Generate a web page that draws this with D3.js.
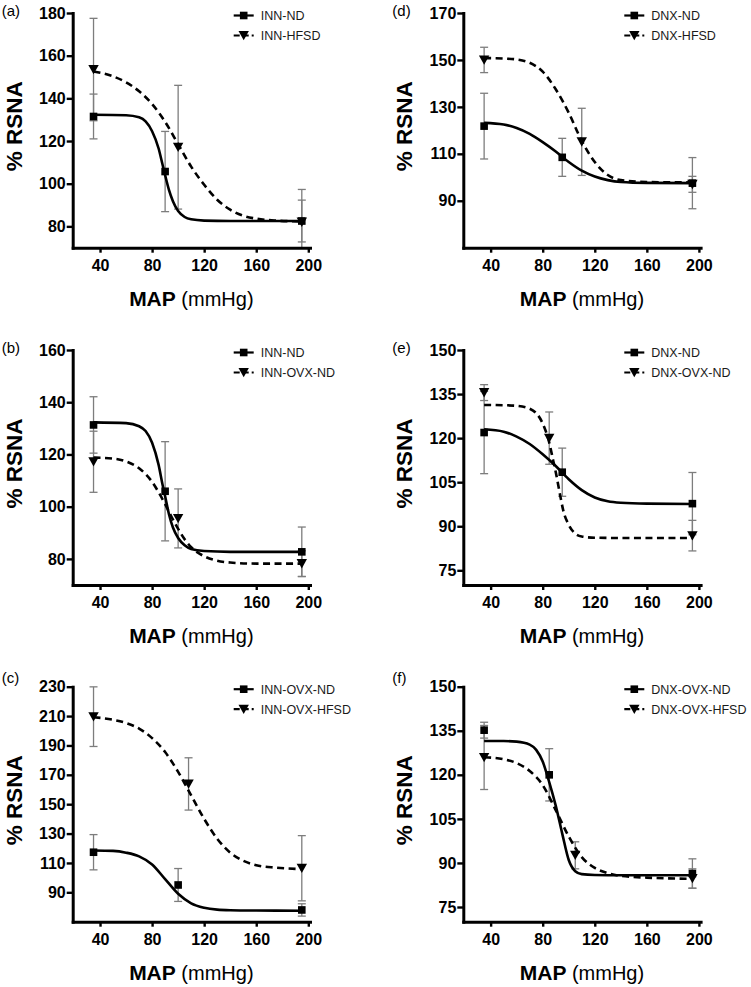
<!DOCTYPE html>
<html><head><meta charset="utf-8">
<script src="https://cdn.jsdelivr.net/npm/d3@7"></script>
<style>body{margin:0;background:#fff}svg{display:block}</style>
</head><body>
<svg id="chart" width="751" height="987"></svg>
<script>
// ---------- data ----------
const mapTicks = [40, 80, 120, 160, 200];
const mapDomain = [19, 201.3];

// (a)
const aTicks = [80, 100, 120, 140, 160, 180];
const aNames = ["INN-ND", "INN-HFSD"];
const aX1 = [35, 90, 195], aY1 = [131.5, 105.7, 82.5], aE1 = [10.5, 18.8, 9.8];
const aX2 = [35, 100, 195], aY2 = [153.5, 117.1, 82], aE2 = [24, 29, 15.3];
const aFitX1 = [35, 60, 70, 75, 80, 85, 88, 90, 93, 96, 100, 105, 110, 120, 140, 195];
const aFitY1 = [132.3, 132.1, 131.1, 129.2, 124.6, 116.5, 109, 104, 97, 91.8, 87.2, 84.4, 83.3, 82.7, 82.5, 82.5];
const aFitX2 = [35, 50, 60, 70, 80, 90, 100, 110, 120, 130, 140, 150, 160, 175, 195];
const aFitY2 = [152.6, 150.3, 147.5, 143.3, 137.3, 129, 118.5, 108, 99.5, 92.5, 87.8, 85, 83.6, 82.7, 82.3];

// (b)
const bTicks = [80, 100, 120, 140, 160];
const bNames = ["INN-ND", "INN-OVX-ND"];
const bX1 = [35, 90, 195], bY1 = [131.3, 105.9, 82.7], bE1 = [10.8, 19, 9.5];
const bX2 = [35, 100, 195], bY2 = [117.2, 95.5, 78.2], bE2 = [11.7, 11.3, 4.9];
const bFitX1 = [35, 60, 70, 75, 80, 85, 88, 90, 93, 96, 100, 105, 110, 120, 140, 195];
const bFitY1 = [132.3, 132, 130.8, 129, 124.5, 116, 108.5, 104, 97, 92, 88, 85.2, 83.8, 83, 82.7, 82.7];
const bFitX2 = [35, 50, 60, 70, 80, 85, 90, 95, 100, 105, 110, 120, 130, 140, 160, 195];
const bFitY2 = [118.8, 118.4, 117.3, 114.7, 109.5, 105.5, 101, 96, 91.5, 87.5, 84.5, 81, 79.3, 78.6, 78.2, 78.2];

// (c)
const cTicks = [90, 110, 130, 150, 170, 190, 210, 230];
const cNames = ["INN-OVX-ND", "INN-OVX-HFSD"];
const cX1 = [35, 100, 195], cY1 = [117.3, 95, 78], cE1 = [12, 11.2, 4.2];
const cX2 = [35, 108, 195], cY2 = [209.6, 163.8, 106.4], cE2 = [20.3, 17.8, 22.2];
const cFitX1 = [35, 50, 60, 70, 80, 90, 100, 110, 120, 130, 140, 160, 195];
const cFitY1 = [118.5, 118.2, 117, 114.5, 109, 99, 89, 82.5, 79.5, 78.2, 77.8, 77.6, 77.5];
const cFitX2 = [35, 50, 60, 70, 80, 90, 100, 110, 120, 130, 140, 150, 160, 175, 195];
const cFitY2 = [209.2, 207.5, 205.3, 201.5, 195, 185.5, 172, 156, 140, 126.5, 117, 111.5, 108.5, 106.8, 105.8];

// (d)
const dTicks = [90, 110, 130, 150, 170];
const dNames = ["DNX-ND", "DNX-HFSD"];
const dX1 = [35, 95, 195], dY1 = [121.8, 108.5, 97.5], dE1 = [14, 8.1, 10.9];
const dX2 = [35, 110, 195], dY2 = [150, 115.1, 97], dE2 = [5.4, 14.3, 3.4];
const dFitX1 = [35, 50, 60, 70, 80, 90, 100, 110, 120, 130, 140, 160, 195];
const dFitY1 = [123.2, 122.5, 121, 118.5, 115, 111, 106.5, 102.8, 100.3, 98.8, 98, 97.6, 97.5];
const dFitX2 = [35, 50, 60, 70, 80, 90, 100, 110, 120, 130, 140, 160, 195];
const dFitY2 = [150.8, 150.6, 150.2, 148.8, 145, 137.5, 127.5, 115.5, 106.5, 101, 98.8, 98, 97.8];

// (e)
const eTicks = [75, 90, 105, 120, 135, 150];
const eNames = ["DNX-ND", "DNX-OVX-ND"];
const eX1 = [35, 95, 195], eY1 = [121.9, 108.4, 97.7], eE1 = [14, 8.2, 10.6];
const eX2 = [35, 85, 195], eY2 = [135.5, 120, 86.8], eE2 = [2.7, 8.9, 5.2];
const eFitX1 = [35, 50, 60, 70, 80, 90, 100, 110, 120, 130, 140, 160, 195];
const eFitY1 = [123, 122.2, 120.5, 118, 114.5, 110.5, 106, 102.3, 99.8, 98.5, 98, 97.7, 97.6];
const eFitX2 = [35, 50, 60, 70, 75, 80, 85, 88, 90, 93, 96, 100, 105, 110, 120, 140, 195];
const eFitY2 = [131.3, 131.2, 131, 130, 128.5, 125, 118.5, 112.5, 108.5, 101.5, 95, 90.5, 87.5, 86.5, 86.1, 86, 86];

// (f)
const fTicks = [75, 90, 105, 120, 135, 150];
const fNames = ["DNX-OVX-ND", "DNX-OVX-HFSD"];
const fX1 = [35, 85, 195], fY1 = [135.2, 120, 86.4], fE1 = [2.7, 8.9, 5];
const fX2 = [35, 105, 195], fY2 = [125.9, 92.6, 84.7], fE2 = [10.9, 4.6, 3.3];
const fFitX1 = [35, 50, 60, 70, 75, 80, 85, 90, 95, 100, 105, 110, 120, 140, 195];
const fFitY1 = [131.5, 131.5, 131.3, 130.3, 128.5, 124.5, 117.5, 109.5, 100, 91, 87.2, 86.2, 85.9, 85.8, 85.8];
const fFitX2 = [35, 50, 60, 70, 80, 90, 100, 110, 120, 130, 140, 160, 195];
const fFitY2 = [126, 125.3, 124, 121.3, 116.5, 108, 99, 92, 88.3, 86.5, 85.6, 85, 84.6];

// ---------- panel assembly ----------
function ser(name, x, y, e, fx, fy, marker, dashed) {
  return {name, x, y, e, fx, fy, marker, dashed};
}
const panels = [
  {label: "(a)", col: 0, row: 0, ticks: aTicks, series: [
    ser(aNames[0], aX1, aY1, aE1, aFitX1, aFitY1, "sq", false),
    ser(aNames[1], aX2, aY2, aE2, aFitX2, aFitY2, "tri", true)]},
  {label: "(b)", col: 0, row: 1, ticks: bTicks, series: [
    ser(bNames[0], bX1, bY1, bE1, bFitX1, bFitY1, "sq", false),
    ser(bNames[1], bX2, bY2, bE2, bFitX2, bFitY2, "tri", true)]},
  {label: "(c)", col: 0, row: 2, ticks: cTicks, series: [
    ser(cNames[0], cX1, cY1, cE1, cFitX1, cFitY1, "sq", false),
    ser(cNames[1], cX2, cY2, cE2, cFitX2, cFitY2, "tri", true)]},
  {label: "(d)", col: 1, row: 0, ticks: dTicks, series: [
    ser(dNames[0], dX1, dY1, dE1, dFitX1, dFitY1, "sq", false),
    ser(dNames[1], dX2, dY2, dE2, dFitX2, dFitY2, "tri", true)]},
  {label: "(e)", col: 1, row: 1, ticks: eTicks, series: [
    ser(eNames[0], eX1, eY1, eE1, eFitX1, eFitY1, "sq", false),
    ser(eNames[1], eX2, eY2, eE2, eFitX2, eFitY2, "tri", true)]},
  {label: "(f)", col: 1, row: 2, ticks: fTicks, series: [
    ser(fNames[0], fX1, fY1, fE1, fFitX1, fFitY1, "sq", false),
    ser(fNames[1], fX2, fY2, fE2, fFitX2, fFitY2, "tri", true)]}
];

// ---------- layout ----------
const colLeft = [72.7, 463.3];
const plotW = 237.3;
const rowTop = [13, 350, 686.7];
const rowBottom = [247.7, 585, 921.7];
const letterBase = [16, 353, 683];
const FONT = "'Liberation Sans', Arial, Helvetica, sans-serif";
const ERR = "#7d7d7d";

const svg = d3.select("#chart");
svg.append("rect").attr("width", 751).attr("height", 987).attr("fill", "#fff");

function drawMarker(g, type, cx, cy) {
  if (type === "sq") {
    g.append("rect").attr("x", cx - 3.8).attr("y", cy - 3.8)
      .attr("width", 7.6).attr("height", 7.6).attr("fill", "#000");
  } else {
    g.append("path")
      .attr("d", `M${cx - 5.2},${cy - 4.5}L${cx + 5.2},${cy - 4.5}L${cx},${cy + 4.8}Z`)
      .attr("fill", "#000");
  }
}

panels.forEach(p => {
  const left = colLeft[p.col], right = left + plotW;
  const top = rowTop[p.row], bottom = rowBottom[p.row];
  const yMax = p.ticks[p.ticks.length - 1];
  const x = d3.scaleLinear().domain(mapDomain).range([left, right]);
  const y = d3.scaleLinear().domain([70, yMax]).range([bottom, top]).clamp(true);
  const g = svg.append("g");

  // error bars
  p.series.forEach(s => {
    s.x.forEach((xv, i) => {
      const cx = x(xv), y1 = y(s.y[i] + s.e[i]), y2 = y(s.y[i] - s.e[i]);
      g.append("line").attr("x1", cx).attr("x2", cx).attr("y1", y1).attr("y2", y2)
        .attr("stroke", ERR).attr("stroke-width", 1.3);
      [s.y[i] + s.e[i], s.y[i] - s.e[i]].forEach(v => {
        if (v > 70) {
          g.append("line").attr("x1", cx - 4).attr("x2", cx + 4)
            .attr("y1", y(v)).attr("y2", y(v))
            .attr("stroke", ERR).attr("stroke-width", 1.3);
        }
      });
    });
  });

  // fitted curves
  const line = d3.line().x(d => x(d[0])).y(d => y(d[1])).curve(d3.curveMonotoneX);
  p.series.forEach(s => {
    g.append("path").attr("d", line(s.fx.map((v, i) => [v, s.fy[i]])))
      .attr("fill", "none").attr("stroke", "#000").attr("stroke-width", 2.6)
      .attr("stroke-dasharray", s.dashed ? "7,4.5" : null);
  });

  // markers
  p.series.forEach(s => {
    s.x.forEach((xv, i) => drawMarker(g, s.marker, x(xv), y(s.y[i])));
  });

  // axes
  const ya = g.append("g").attr("transform", `translate(${left},0)`)
    .call(d3.axisLeft(y).tickValues(p.ticks).tickSize(6).tickSizeOuter(0).tickPadding(1).tickFormat(d3.format("d")));
  const xa = g.append("g").attr("transform", `translate(0,${bottom})`)
    .call(d3.axisBottom(x).tickValues(mapTicks).tickSize(5).tickSizeOuter(0).tickPadding(7).tickFormat(d3.format("d")));
  [ya, xa].forEach(a => {
    a.select(".domain").attr("stroke", "#000").attr("stroke-width", 3).attr("stroke-linecap", "square");
    a.selectAll(".tick line").attr("stroke", "#000").attr("stroke-width", 2.4);
    a.selectAll(".tick text").attr("fill", "#000").style("font-family", FONT)
      .style("font-size", "16px").style("font-weight", "bold");
  });

  // axis titles
  g.append("text").attr("transform", `translate(${left - 51},${(top + bottom) / 2 - 4}) rotate(-90)`)
    .attr("text-anchor", "middle").style("font-family", FONT).style("font-size", "22.5px")
    .style("font-weight", "bold").attr("fill", "#000").text("% RSNA");
  const xt = g.append("text").attr("x", (left + right) / 2).attr("y", bottom + 58)
    .attr("text-anchor", "middle").style("font-family", FONT).attr("fill", "#000");
  xt.append("tspan").style("font-weight", "bold").style("font-size", "21px").text("MAP");
  xt.append("tspan").style("font-size", "20px").text(" (mmHg)");

  // panel letter
  g.append("text").attr("x", left - 71).attr("y", letterBase[p.row])
    .style("font-family", FONT).style("font-size", "15px").attr("fill", "#000").text(p.label);

  // legend
  p.series.forEach((s, i) => {
    const ly = top + 2.5 + i * 20;
    g.append("line").attr("x1", left + 161).attr("x2", left + 181).attr("y1", ly).attr("y2", ly)
      .attr("stroke", "#000").attr("stroke-width", 2.2)
      .attr("stroke-dasharray", s.dashed ? "6,3" : null);
    drawMarker(g, s.marker, left + 171, ly);
    g.append("text").attr("x", left + 188).attr("y", ly + 4.5)
      .style("font-family", FONT).style("font-size", "12.5px").attr("fill", "#1a1a1a").text(s.name);
  });
});
</script>
</body></html>
